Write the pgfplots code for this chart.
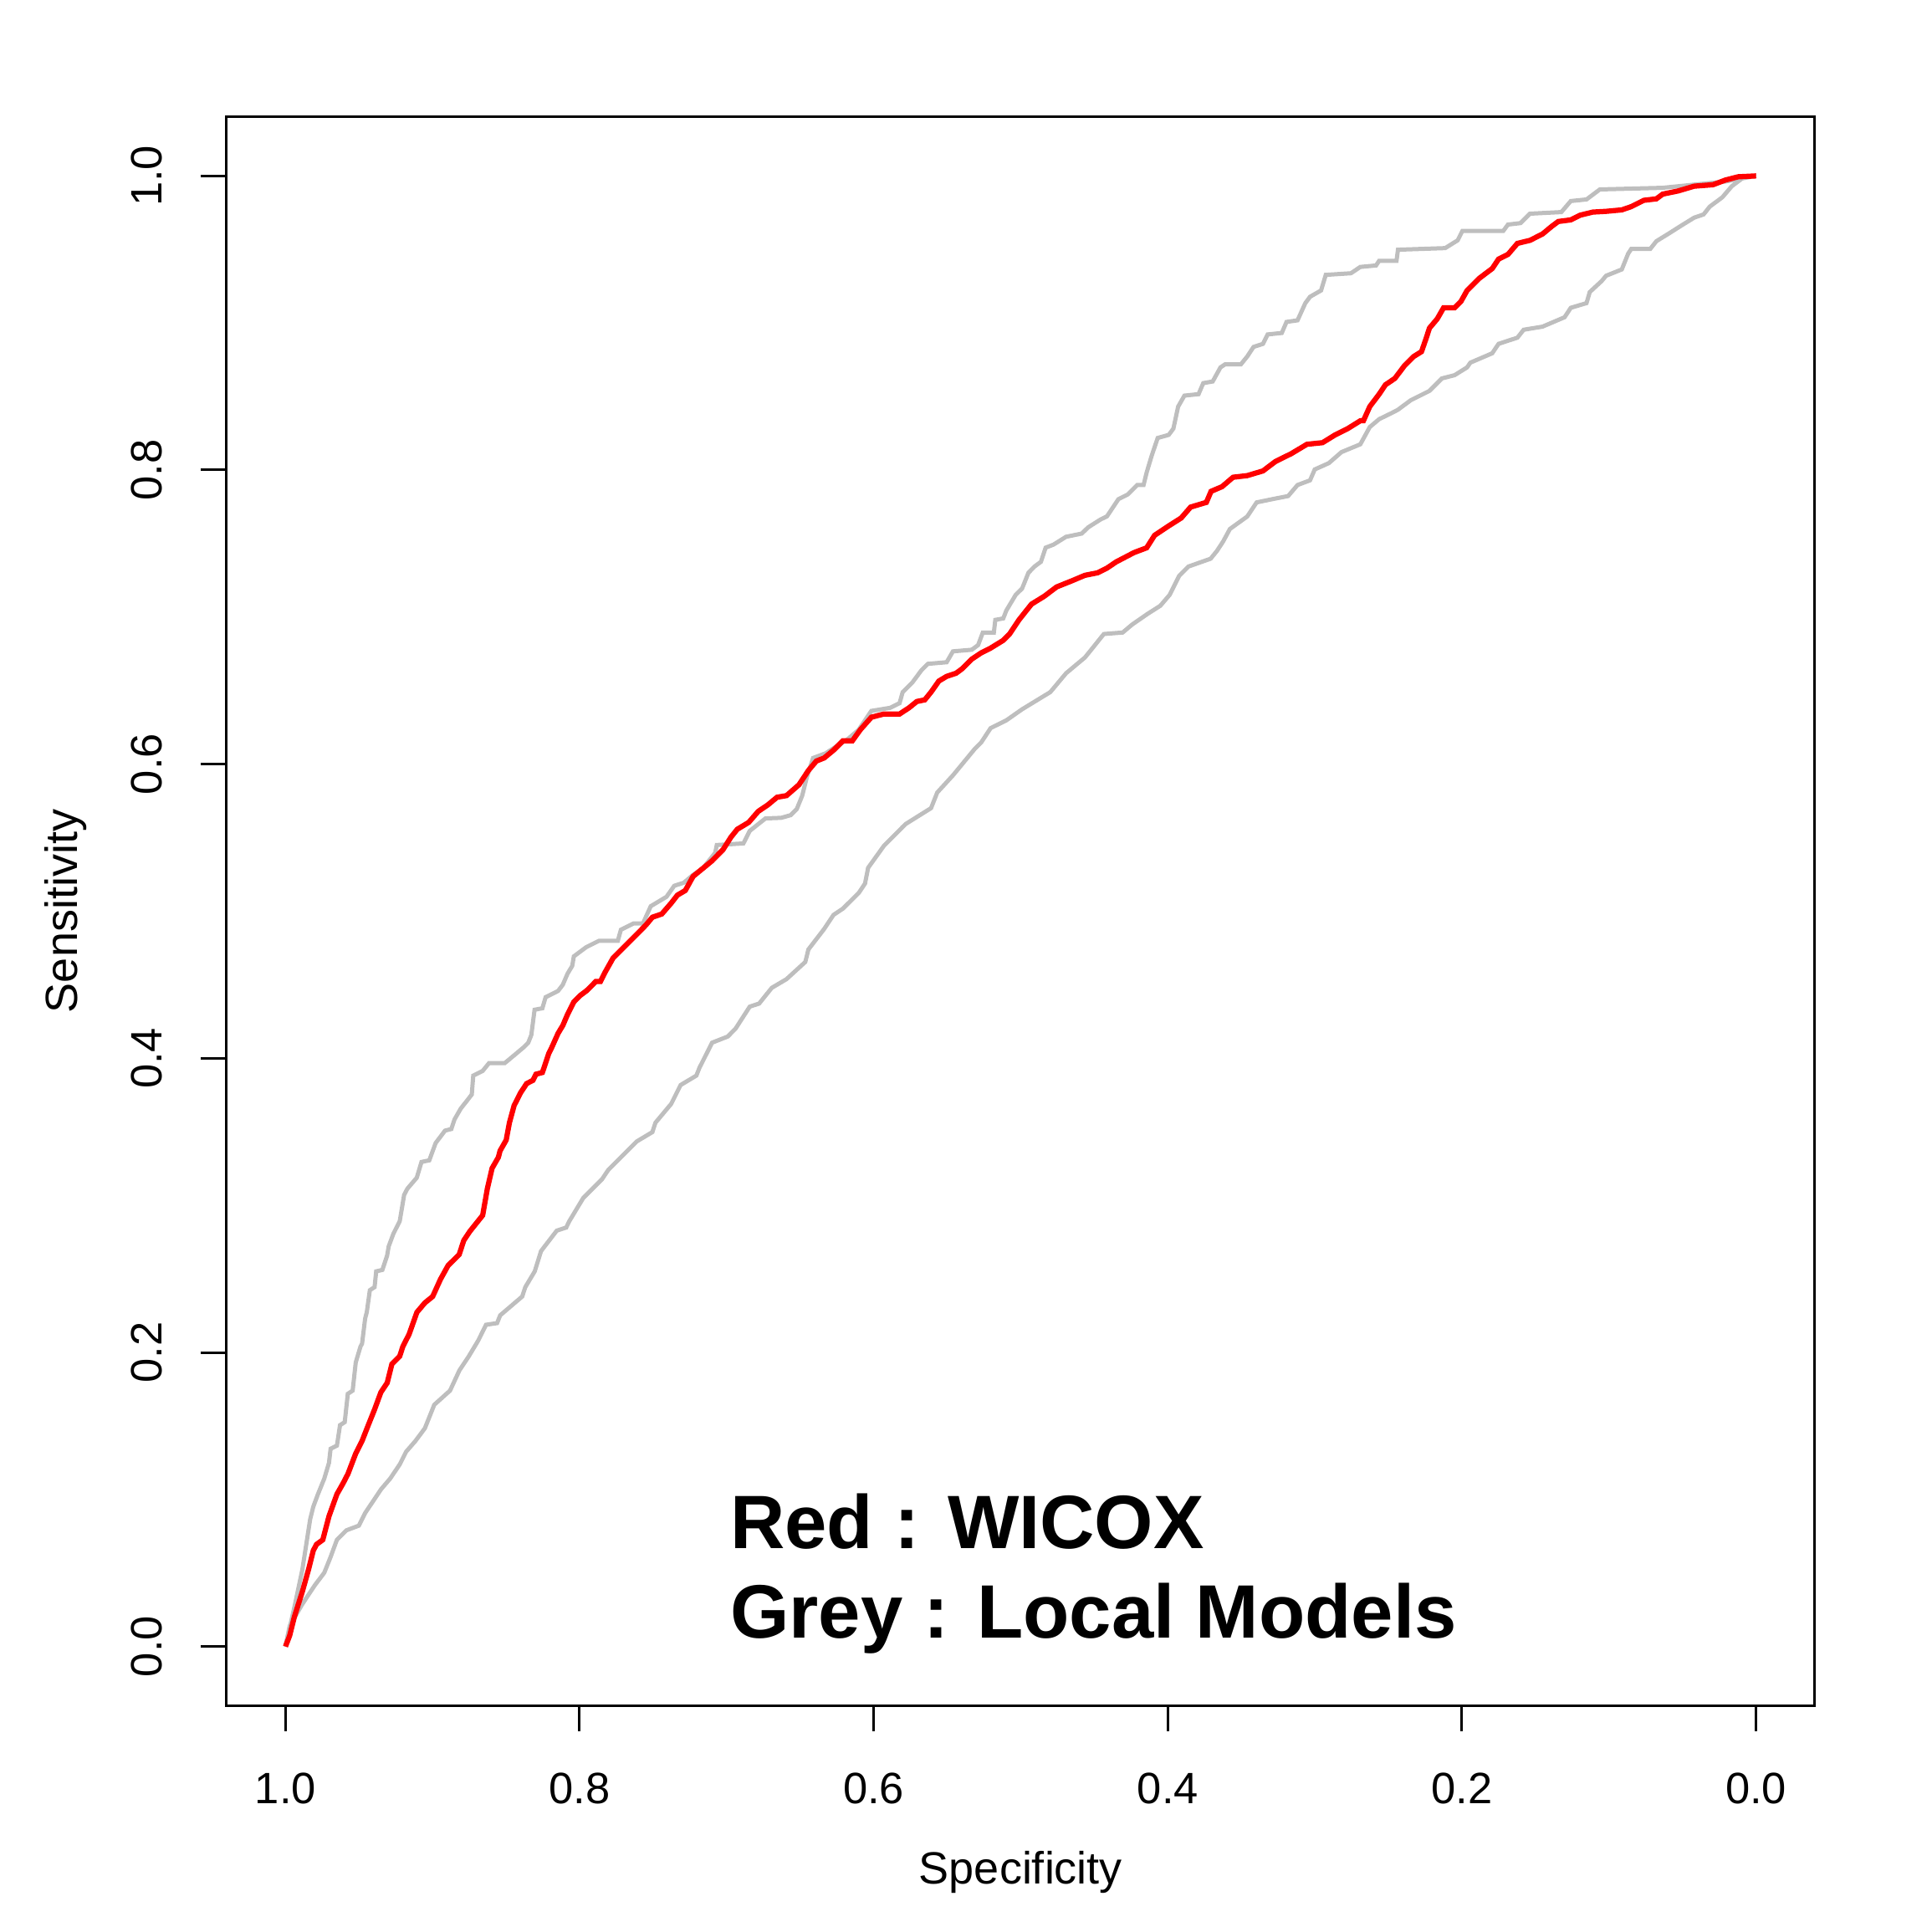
\documentclass[border=0pt]{standalone}
\usepackage{fontspec}
\setmainfont{Liberation Sans}
\usepackage{pgfplots}
\pgfplotsset{compat=1.18}
\definecolor{rgrey}{HTML}{BEBEBE}
\definecolor{rred}{HTML}{FF0000}
\begin{document}
\begin{tikzpicture}
\begin{axis}[
  scale only axis,
  width=379.8bp, height=379.8bp,
  x dir=reverse,
  xmin=-0.04, xmax=1.04, ymin=-0.04, ymax=1.04,
  xtick={0,0.2,0.4,0.6,0.8,1.0},
  ytick={0,0.2,0.4,0.6,0.8,1.0},
  xticklabels={0.0,0.2,0.4,0.6,0.8,1.0},
  yticklabels={0.0,0.2,0.4,0.6,0.8,1.0},
  tick align=outside,
  major tick length=6.2bp,
  xtick pos=bottom, ytick pos=left,
  tick style={black, line width=0.6bp},
  axis line style={line width=0.6bp},
  /pgf/number format/assume math mode=true,
  tick label style={font=\fontsize{10.5bp}{12bp}\selectfont},
  xticklabel style={anchor=north, yshift=-6.5bp},
  yticklabel style={rotate=90, anchor=south, yshift=5.6bp},
  label style={font=\fontsize{10.8bp}{13bp}\selectfont},
  xlabel={Specificity},
  ylabel={Sensitivity},
  xlabel style={at={(axis description cs:0.5,-0.1053)}, anchor=center},
  ylabel style={at={(axis description cs:-0.1016,0.5)}, anchor=center, rotate=0},
  clip mode=individual,
]
\addplot[rgrey, line width=1.0bp] coordinates {
(1.0,0.0) (0.9939,0.0268) (0.9885,0.0524) (0.9832,0.0865) (0.9811,0.0950) (0.9779,0.1036)
(0.9736,0.1142) (0.9704,0.1249) (0.9693,0.1345) (0.9650,0.1366) (0.9629,0.1505) (0.9597,0.1526)
(0.9576,0.1718) (0.9543,0.1740) (0.9522,0.1932) (0.9490,0.2039) (0.9479,0.2060) (0.9458,0.2231)
(0.9447,0.2273) (0.9426,0.2423) (0.9394,0.2444) (0.9383,0.2551) (0.9341,0.2561) (0.9309,0.2657)
(0.9298,0.2721) (0.9266,0.2807) (0.9223,0.2892) (0.9193,0.3071) (0.9171,0.3113) (0.9107,0.3188)
(0.9075,0.3295) (0.9022,0.3306) (0.8979,0.3423) (0.8915,0.3508) (0.8872,0.3519) (0.8851,0.3583)
(0.8808,0.3658) (0.8766,0.3711) (0.8733,0.3754) (0.8723,0.3882) (0.8659,0.3914) (0.8616,0.3967)
(0.8509,0.3967) (0.8445,0.4020) (0.8381,0.4074) (0.8349,0.4106) (0.8328,0.4159) (0.8306,0.4330)
(0.8253,0.4340) (0.8231,0.4415) (0.8146,0.4458) (0.8114,0.4500) (0.8082,0.4575) (0.8050,0.4628)
(0.8039,0.4693) (0.7954,0.4756) (0.7868,0.4799) (0.7740,0.4799) (0.7719,0.4874) (0.7633,0.4917)
(0.7569,0.4917) (0.7516,0.5034) (0.7409,0.5098) (0.7356,0.5173) (0.7291,0.5194) (0.7228,0.5247)
(0.7163,0.5290) (0.7078,0.5397) (0.7067,0.5450) (0.6886,0.5461) (0.6843,0.5546) (0.6736,0.5631)
(0.6629,0.5635) (0.6565,0.5653) (0.6523,0.5695) (0.6486,0.5786) (0.6454,0.5914) (0.6412,0.6042)
(0.6326,0.6074) (0.6294,0.6095) (0.6209,0.6149) (0.6177,0.6170) (0.6102,0.6234) (0.6016,0.6362)
(0.5888,0.6383) (0.5824,0.6415) (0.5803,0.6490) (0.5738,0.6554) (0.5675,0.6639) (0.5632,0.6682)
(0.5504,0.6693) (0.5461,0.6767) (0.5333,0.6778) (0.5290,0.6810) (0.5258,0.6895) (0.5183,0.6895)
(0.5173,0.6981) (0.5119,0.6991) (0.5098,0.7045) (0.5034,0.7152) (0.4991,0.7194) (0.4948,0.7301)
(0.4906,0.7344) (0.4863,0.7376) (0.4831,0.7472) (0.4777,0.7493) (0.4692,0.7546) (0.4585,0.7568)
(0.4542,0.7610) (0.4457,0.7664) (0.4414,0.7685) (0.4336,0.7802) (0.4272,0.7834) (0.4208,0.7898)
(0.4165,0.7898) (0.4144,0.7983) (0.4112,0.8090) (0.4069,0.8218) (0.3994,0.8239) (0.3962,0.8282)
(0.3930,0.8431) (0.3887,0.8506) (0.3791,0.8516) (0.3759,0.8591) (0.3695,0.8602) (0.3642,0.8698)
(0.3610,0.8719) (0.3503,0.8719) (0.3460,0.8772) (0.3417,0.8837) (0.3353,0.8858) (0.3321,0.8922)
(0.3225,0.8932) (0.3193,0.9007) (0.3118,0.9018) (0.3065,0.9135) (0.3033,0.9178) (0.2958,0.9221)
(0.2926,0.9327) (0.2755,0.9338) (0.2691,0.9381) (0.2584,0.9391) (0.2563,0.9423) (0.2445,0.9423)
(0.2435,0.9498) (0.2114,0.9509) (0.2029,0.9562) (0.1997,0.9626) (0.1719,0.9626) (0.1687,0.9669)
(0.1602,0.9679) (0.1538,0.9743) (0.1324,0.9754) (0.1260,0.9829) (0.1153,0.9840) (0.1062,0.9908)
(0.0635,0.9919) (0.0208,0.9962) (0.0,1.0)
};
\addplot[rgrey, line width=1.0bp] coordinates {
(1.0,0.0) (0.9971,0.0140) (0.9885,0.0289) (0.9800,0.0417) (0.9736,0.0502) (0.9693,0.0609)
(0.9650,0.0726) (0.9586,0.0790) (0.9501,0.0822) (0.9458,0.0908) (0.9415,0.0972) (0.9351,0.1068)
(0.9288,0.1142) (0.9223,0.1238) (0.9180,0.1324) (0.9116,0.1398) (0.9052,0.1484) (0.8988,0.1644)
(0.8881,0.1740) (0.8817,0.1878) (0.8753,0.1974) (0.8689,0.2081) (0.8636,0.2188) (0.8561,0.2199)
(0.8540,0.2252) (0.8390,0.2380) (0.8369,0.2444) (0.8305,0.2551) (0.8262,0.2689) (0.8155,0.2828)
(0.8091,0.2849) (0.8070,0.2892) (0.7975,0.3050) (0.7847,0.3178) (0.7804,0.3242) (0.7655,0.3391)
(0.7612,0.3434) (0.7505,0.3498) (0.7484,0.3562) (0.7377,0.3690) (0.7313,0.3818) (0.7206,0.3882)
(0.7185,0.3935) (0.7099,0.4106) (0.6992,0.4148) (0.6939,0.4202) (0.6843,0.4351) (0.6779,0.4372)
(0.6693,0.4479) (0.6593,0.4538) (0.6465,0.4655) (0.6444,0.4740) (0.6337,0.4879) (0.6273,0.4975)
(0.6209,0.5018) (0.6102,0.5124) (0.6059,0.5188) (0.6038,0.5295) (0.5931,0.5444) (0.5803,0.5573)
(0.5781,0.5594) (0.5610,0.5701) (0.5568,0.5807) (0.5461,0.5924) (0.5311,0.6106) (0.5268,0.6149)
(0.5205,0.6245) (0.5098,0.6298) (0.4991,0.6373) (0.4799,0.6490) (0.4692,0.6618) (0.4564,0.6725)
(0.4521,0.6778) (0.4435,0.6885) (0.4307,0.6895) (0.4243,0.6949) (0.4136,0.7023) (0.4051,0.7077)
(0.3987,0.7152) (0.3923,0.7280) (0.3859,0.7344) (0.3709,0.7397) (0.3666,0.7450) (0.3624,0.7514)
(0.3578,0.7599) (0.3460,0.7684) (0.3396,0.7780) (0.3289,0.7802) (0.3182,0.7823) (0.3118,0.7898)
(0.3033,0.7930) (0.3001,0.8004) (0.2905,0.8047) (0.2819,0.8122) (0.2691,0.8175) (0.2627,0.8292)
(0.2563,0.8346) (0.2477,0.8388) (0.2435,0.8410) (0.2349,0.8474) (0.2221,0.8538) (0.2136,0.8623)
(0.2050,0.8645) (0.1965,0.8698) (0.1943,0.8730) (0.1794,0.8794) (0.1751,0.8858) (0.1623,0.8900)
(0.1580,0.8954) (0.1452,0.8975) (0.1302,0.9039) (0.1260,0.9103) (0.1153,0.9135) (0.1131,0.9210)
(0.1050,0.9285) (0.1020,0.9321) (0.0913,0.9364) (0.0870,0.9471) (0.0849,0.9503) (0.0720,0.9503)
(0.0678,0.9556) (0.0592,0.9609) (0.0507,0.9663) (0.0421,0.9716) (0.0357,0.9738) (0.0315,0.9791)
(0.0229,0.9855) (0.0165,0.9930) (0.0080,0.9994) (0.0,1.0)
};
\addplot[rred, line width=1.25bp] coordinates {
(1.0,0.0) (0.9971,0.0075) (0.9939,0.0203) (0.9885,0.0374) (0.9843,0.0524) (0.9811,0.0652)
(0.9789,0.0694) (0.9746,0.0726) (0.9704,0.0886) (0.9650,0.1036) (0.9608,0.1110) (0.9575,0.1174)
(0.9522,0.1313) (0.9479,0.1398) (0.9437,0.1505) (0.9394,0.1612) (0.9351,0.1729) (0.9308,0.1793)
(0.9276,0.1921) (0.9223,0.1974) (0.9202,0.2039) (0.9159,0.2124) (0.9106,0.2273) (0.9052,0.2337)
(0.8999,0.2380) (0.8946,0.2497) (0.8894,0.2591) (0.8819,0.2665) (0.8787,0.2762) (0.8744,0.2826)
(0.8659,0.2932) (0.8627,0.3114) (0.8595,0.3252) (0.8552,0.3327) (0.8541,0.3370) (0.8499,0.3444)
(0.8477,0.3562) (0.8445,0.3679) (0.8402,0.3764) (0.8360,0.3828) (0.8317,0.3850) (0.8296,0.3892)
(0.8253,0.3903) (0.8210,0.4031) (0.8189,0.4074) (0.8146,0.4170) (0.8114,0.4223) (0.8082,0.4298)
(0.8039,0.4383) (0.7997,0.4426) (0.7954,0.4458) (0.7932,0.4479) (0.7890,0.4522) (0.7858,0.4522)
(0.7826,0.4586) (0.7772,0.4682) (0.7719,0.4735) (0.7655,0.4799) (0.7591,0.4863) (0.7549,0.4906)
(0.7505,0.4959) (0.7441,0.4981) (0.7377,0.5055) (0.7335,0.5109) (0.7281,0.5141) (0.7228,0.5237)
(0.7163,0.5290) (0.7099,0.5343) (0.7057,0.5386) (0.7025,0.5418) (0.6971,0.5503) (0.6928,0.5557)
(0.6850,0.5604) (0.6785,0.5679) (0.6721,0.5722) (0.6657,0.5775) (0.6593,0.5786) (0.6508,0.5860)
(0.6444,0.5957) (0.6390,0.6021) (0.6337,0.6042) (0.6273,0.6095) (0.6209,0.6159) (0.6145,0.6159)
(0.6091,0.6234) (0.6016,0.6319) (0.5931,0.6341) (0.5824,0.6341) (0.5760,0.6383) (0.5707,0.6426)
(0.5653,0.6437) (0.5610,0.6490) (0.5557,0.6565) (0.5504,0.6597) (0.5440,0.6618) (0.5397,0.6650)
(0.5333,0.6714) (0.5269,0.6757) (0.5205,0.6789) (0.5119,0.6842) (0.5076,0.6885) (0.5012,0.6981)
(0.4970,0.7034) (0.4927,0.7088) (0.4841,0.7141) (0.4756,0.7205) (0.4649,0.7248) (0.4564,0.7284)
(0.4478,0.7301) (0.4414,0.7333) (0.4350,0.7376) (0.4229,0.7439) (0.4144,0.7471) (0.4090,0.7556)
(0.3994,0.7620) (0.3909,0.7674) (0.3845,0.7748) (0.3738,0.7780) (0.3706,0.7855) (0.3631,0.7887)
(0.3556,0.7951) (0.3460,0.7962) (0.3353,0.7994) (0.3268,0.8058) (0.3161,0.8111) (0.3054,0.8175)
(0.2948,0.8186) (0.2862,0.8239) (0.2776,0.8282) (0.2691,0.8335) (0.2670,0.8335) (0.2627,0.8431)
(0.2563,0.8516) (0.2520,0.8580) (0.2456,0.8623) (0.2392,0.8708) (0.2328,0.8772) (0.2275,0.8805)
(0.2242,0.8900) (0.2221,0.8965) (0.2168,0.9028) (0.2125,0.9103) (0.2050,0.9103) (0.2007,0.9146)
(0.1965,0.9221) (0.1901,0.9285) (0.1879,0.9306) (0.1794,0.9370) (0.1751,0.9434) (0.1687,0.9466)
(0.1623,0.9541) (0.1537,0.9562) (0.1452,0.9605) (0.1388,0.9658) (0.1345,0.9690) (0.1260,0.9701)
(0.1196,0.9733) (0.1110,0.9754) (0.1020,0.9759) (0.0913,0.9769) (0.0849,0.9791) (0.0763,0.9834)
(0.0678,0.9844) (0.0635,0.9876) (0.0529,0.9898) (0.0421,0.9930) (0.0293,0.9940) (0.0208,0.9972)
(0.0122,0.9994) (0.0,1.0)
};
\node[anchor=base west, inner sep=0pt, font=\bfseries\fontsize{18.1bp}{21bp}\selectfont] at (axis cs:0.698,0.0666) {Red : WICOX};
\node[anchor=base west, inner sep=0pt, font=\bfseries\fontsize{18.1bp}{21bp}\selectfont] at (axis cs:0.698,0.0060) {Grey : Local Models};
\end{axis}
\path ([shift={(-54.2bp,-54.2bp)}]current axis.south west) rectangle ([shift={(28bp,28bp)}]current axis.north east);
\end{tikzpicture}
\end{document}
